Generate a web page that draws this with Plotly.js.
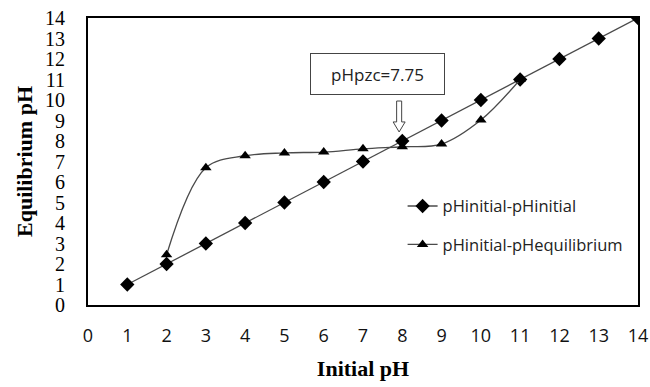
<!DOCTYPE html>
<html>
<head>
<meta charset="utf-8">
<script src="https://cdn.plot.ly/plotly-3.0.1.min.js"></script>
<style>html,body{margin:0;padding:0;background:#fff;}#chart{width:650px;height:387px;}</style>
</head>
<body>
<div id="chart"></div>
<script>
// Data
const initialPH = [1, 2, 3, 4, 5, 6, 7, 8, 9, 10, 11, 12, 13, 14];
const pHinitialSeries = [1, 2, 3, 4, 5, 6, 7, 8, 9, 10, 11, 12, 13, 14];
const eqInitialPH = [2, 3, 4, 5, 6, 7, 8, 9, 10, 11];
const pHequilibriumSeries = [2.45, 6.7, 7.28, 7.42, 7.46, 7.62, 7.72, 7.85, 9.02, 11.0];
const xTicks = [0, 1, 2, 3, 4, 5, 6, 7, 8, 9, 10, 11, 12, 13, 14];
const yTicks = [0, 1, 2, 3, 4, 5, 6, 7, 8, 9, 10, 11, 12, 13, 14];
const pzcLabel = 'pHpzc=7.75';
const arrowX = 7.92;

const traces = [
  {
    x: initialPH, y: pHinitialSeries, name: 'pHinitial-pHinitial',
    mode: 'lines+markers', type: 'scatter', legendgroup: 'a',
    line: {color: '#4a4a4a', width: 1.3},
    marker: {symbol: 'diamond', size: 11, color: '#000000'}
  },
  {
    x: eqInitialPH, y: pHequilibriumSeries, name: 'pHinitial-pHequilibrium',
    mode: 'lines+markers', type: 'scatter', legendgroup: 'b',
    line: {color: '#4a4a4a', width: 1.3, shape: 'spline', smoothing: 1},
    marker: {symbol: 'triangle-up', size: 10, color: '#000000'}
  }
];

// hollow block arrow in data coords
const ax = arrowX, sw = 0.064, hw = 0.153;
const arrowPath = `M ${ax-sw} 9.95 L ${ax+sw} 9.95 L ${ax+sw} 8.93 L ${ax+hw} 8.93 L ${ax} 8.44 L ${ax-hw} 8.93 L ${ax-sw} 8.93 Z`;

const layout = {
  width: 650, height: 387,
  margin: {l: 88, r: 12, t: 18, b: 82},
  paper_bgcolor: '#ffffff', plot_bgcolor: '#ffffff',
  showlegend: true,
  legend: {
    x: 0.572, y: 0.405, xanchor: 'left', yanchor: 'top',
    font: {family: 'Open Sans, sans-serif', size: 16.5, color: '#222222'},
    bgcolor: 'rgba(0,0,0,0)', tracegroupgap: 14, traceorder: 'grouped'
  },
  xaxis: {
    range: [0, 14], tickvals: xTicks, ticktext: xTicks.map(String),
    showgrid: false, zeroline: false,
    showline: true, linecolor: '#000000', linewidth: 2, mirror: true,
    ticks: 'outside', ticklen: 13, tickcolor: 'rgba(0,0,0,0)',
    tickfont: {family: 'Open Sans, sans-serif', size: 18, color: '#111111'},
    title: {text: 'Initial pH', standoff: 15,
      font: {family: 'Liberation Serif, Times New Roman, serif', size: 22, color: '#000000', weight: 'bold'}}
  },
  yaxis: {
    range: [0, 14], tickvals: yTicks, ticktext: yTicks.map(String),
    showgrid: false, zeroline: false,
    showline: true, linecolor: '#000000', linewidth: 2, mirror: true,
    ticks: 'outside', ticklen: 17, tickcolor: 'rgba(0,0,0,0)',
    tickfont: {family: 'Liberation Serif, Times New Roman, serif', size: 20, color: '#000000'},
    title: {text: 'Equilibrium pH', standoff: 6,
      font: {family: 'Liberation Serif, Times New Roman, serif', size: 22, color: '#000000', weight: 'bold'}}
  },
  shapes: [
    {type: 'path', xref: 'x', yref: 'y', path: arrowPath,
     line: {color: '#444444', width: 1}, fillcolor: '#ffffff'}
  ],
  annotations: [
    {x: 7.37, y: 11.27, xref: 'x', yref: 'y', text: pzcLabel, showarrow: false,
     font: {family: 'Open Sans, sans-serif', size: 17, color: '#222222'},
     bordercolor: '#444444', borderwidth: 1, borderpad: 7, bgcolor: '#ffffff',
     width: 119, height: 26}
  ]
};

Plotly.newPlot('chart', traces, layout, {displayModeBar: false, staticPlot: true});
</script>
</body>
</html>
